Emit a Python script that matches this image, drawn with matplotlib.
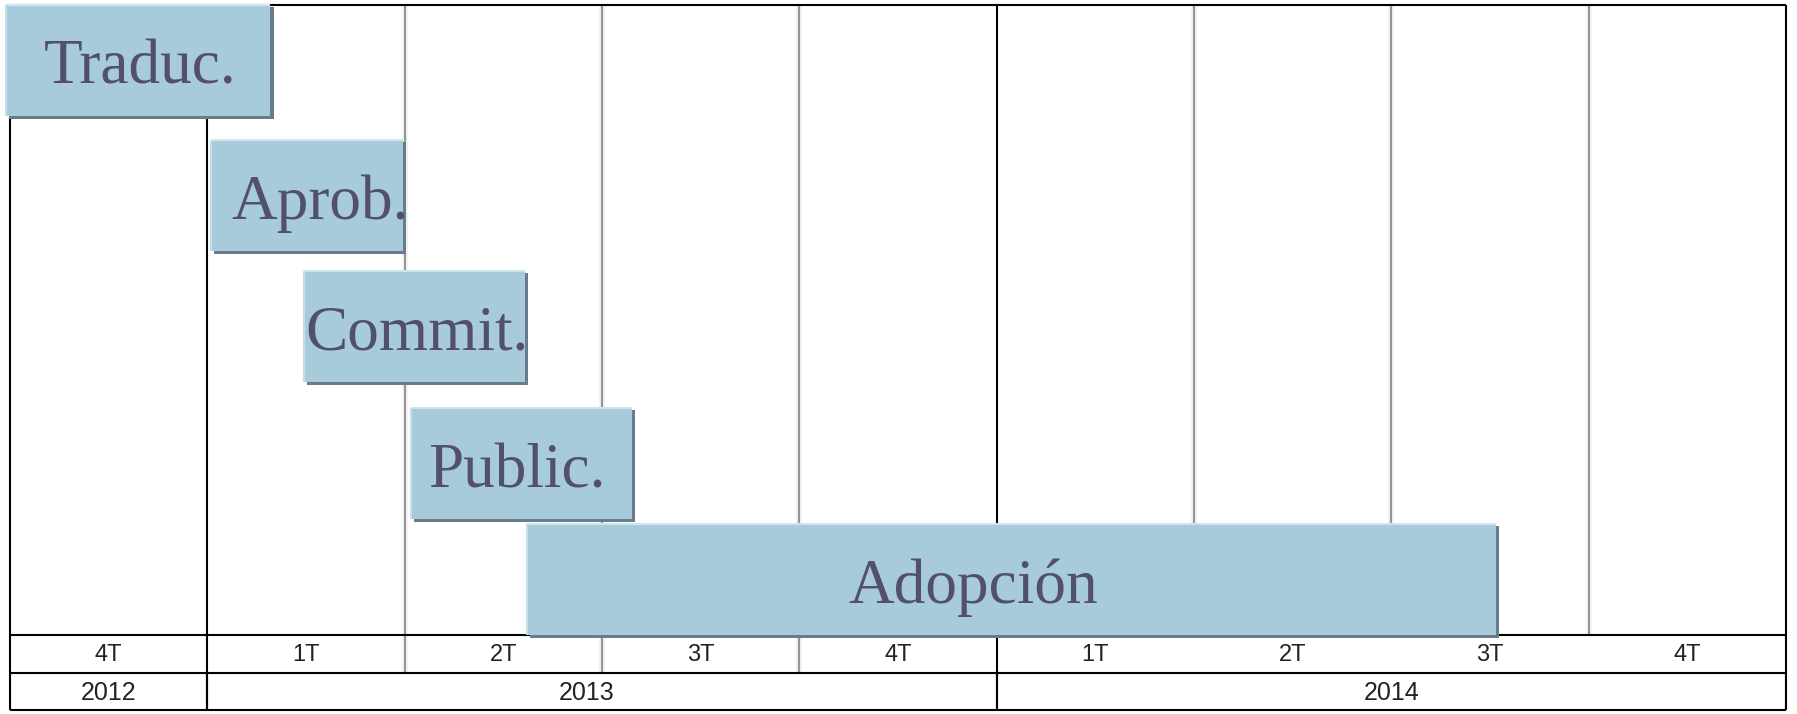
import matplotlib
matplotlib.use("Agg")
import matplotlib.pyplot as plt
import matplotlib.patheffects as pe

# tasks, in quarters from the start of 4T 2012
tasks = ["Traduc.", "Aprob.", "Commit.", "Public.", "Adopción"]
starts = [-0.02, 1.02, 1.49, 2.03, 2.62]
ends = [1.32, 1.99, 2.61, 3.15, 7.53]
label_x = [0.66, 1.57, 2.06, 2.57, 4.88]

quarters = ["4T", "1T", "2T", "3T", "4T", "1T", "2T", "3T", "4T"]
years = ["2012", "2013", "2014"]
year_pos = [0.5, 2.92, 7.0]
year_edges = [0, 1, 5, 9]

# layout (pixel rows of the original picture)
W, H = 1797, 714
row_tops = [4, 139, 270, 407, 523]
bar_h = 112
chart_bot, q_bot, y_bot, top = 635, 673, 710, 5

BAR = "#a7cbda"
TXT = "#524f6f"

fig = plt.figure(figsize=(W / 100, H / 100), dpi=100)
ax = fig.add_axes([10 / W, 0, (1786 - 10) / W, 1])
ax.set_xlim(0, 9)
ax.set_ylim(H, 0)
ax.axis("off")

# vertical grid in chart area
for q in range(1, 9):
    dark = q in (1, 5)
    yb = y_bot if dark else (q_bot if q < 5 else chart_bot)
    if not dark:
        ax.vlines(q, top, yb, color="#efefef", lw=4, zorder=1)
    ax.vlines(q, top, yb, color="black" if dark else "#8c8c8c",
              lw=1.5 if dark else 1.3, zorder=2)

# outer frame and header rows
ax.hlines([top, chart_bot, q_bot, y_bot], 0, 9, color="black", lw=1.5, zorder=2, clip_on=False)
ax.vlines([0, 9], top, y_bot, color="black", lw=1.5, zorder=2, clip_on=False)
ax.vlines(year_edges, q_bot, y_bot, color="black", lw=1.5, zorder=2)

hdr = dict(family=["Liberation Sans Narrow", "Liberation Sans", "DejaVu Sans"],
           color="#222222", ha="center", va="center")
for i, q in enumerate(quarters):
    ax.text(i + 0.5, (chart_bot + q_bot) / 2 + 1, q, fontsize=17, **hdr)
for x, yr in zip(year_pos, years):
    ax.text(x, (q_bot + y_bot) / 2 + 1, yr, fontsize=18, **hdr)

# task bars
widths = [e - s for s, e in zip(starts, ends)]
bars = ax.barh(row_tops, widths, left=starts, height=bar_h, align="edge",
               color=BAR, zorder=4, clip_on=False)
for b in bars:
    b.set_path_effects([pe.SimplePatchShadow(offset=(2.2, -2.2), shadow_rgbFace="#687c89", alpha=1.0),
                        pe.Normal()])
ax.hlines([t + 1 for t in row_tops], starts, ends, color="#cfe5ee", lw=1.5, zorder=5, clip_on=False)
ax.vlines(starts, [t + 1 for t in row_tops], [t + bar_h for t in row_tops],
          color="#c4deea", lw=1.5, zorder=5, clip_on=False)

for name, x, t in zip(tasks, label_x, row_tops):
    ax.text(x, t + 80, name, family="Liberation Serif", fontsize=45.5, color=TXT,
            ha="center", va="baseline", zorder=6)

fig.savefig("out.png", dpi=100, facecolor="white")
